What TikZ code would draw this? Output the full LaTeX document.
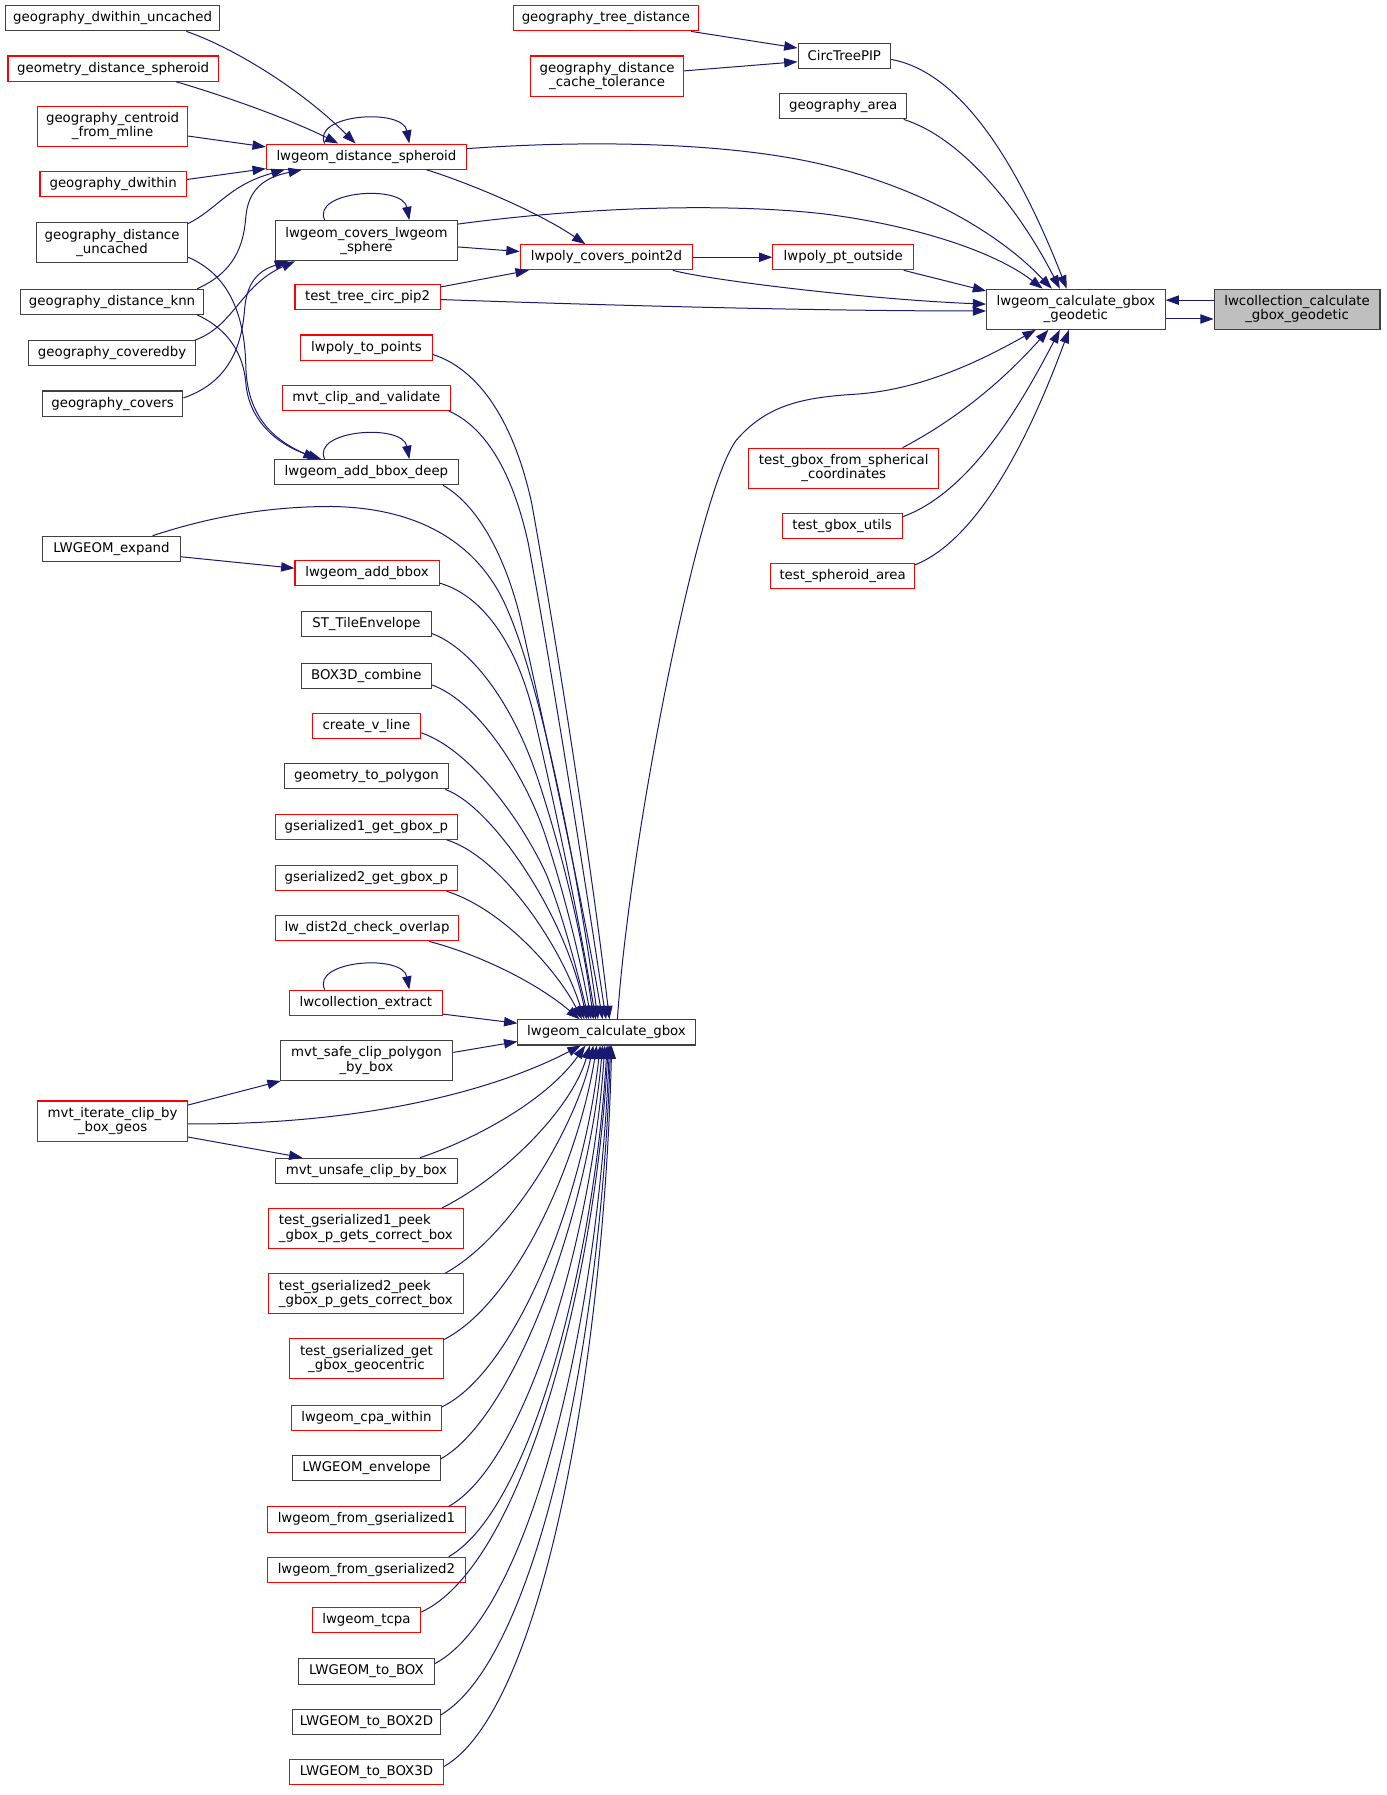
\documentclass[tikz,border=0pt]{standalone}
\usepackage{fontspec}
\setmainfont{DejaVu Sans}
\usetikzlibrary{arrows.meta,calc}
\definecolor{edgeblue}{HTML}{191970}
\definecolor{boxgray}{HTML}{404040}
\definecolor{rootfill}{HTML}{BFBFBF}
\tikzset{
  base/.style={rectangle, inner sep=0pt, minimum height=22*0.8576pt, font=\fontsize{10}{10.7}\selectfont, align=center, line width=0.8pt},
  nb/.style={base, draw=boxgray},
  nr/.style={base, draw=red},
  rootbox/.style={base, draw=boxgray, fill=rootfill},
  bw/.style={minimum width=#1*0.8576pt},
  two/.style={minimum height=35*0.8576pt},
  edg/.style={draw=edgeblue, line width=0.75pt, -{Triangle[length=10pt,width=7pt]}},
}
\begin{document}
\begin{tikzpicture}[x=0.8576pt,y=-0.8576pt]
\useasboundingbox (0,0) rectangle (1213,1570);
% ---------- column A ----------
\node[nb,bw=187] (dwu) at (98.5,16) {geography\_dwithin\_uncached};
\node[nr,bw=184] (gds) at (99,60) {geometry\_distance\_spheroid};
\node[nr,bw=131,two] (gcm) at (98.5,110.5) {geography\_centroid\\\_from\_mline};
\node[nr,bw=128] (gdw) at (99,161) {geography\_dwithin};
\node[nb,bw=132,two] (gdu) at (98,212.5) {geography\_distance\\\_uncached};
\node[nb,bw=160] (gdk) at (98,264) {geography\_distance\_knn};
\node[nb,bw=146] (gcb) at (98,309) {geography\_coveredby};
\node[nb,bw=123] (gcv) at (98.5,353) {geography\_covers};
\node[nb,bw=121] (lex) at (97.5,480) {LWGEOM\_expand};
\node[nr,bw=131,two] (mic) at (98.5,980.5) {mvt\_iterate\_clip\_by\\\_box\_geos};
% ---------- column B ----------
\node[nr,bw=175] (lds) at (320.5,137) {lwgeom\_distance\_spheroid};
\node[nb,bw=159,two] (lcs) at (320.5,210.5) {lwgeom\_covers\_lwgeom\\\_sphere};
\node[nr,bw=127] (tcp) at (321.5,260) {test\_tree\_circ\_pip2};
\node[nr,bw=115] (lpp) at (320.5,304) {lwpoly\_to\_points};
\node[nr,bw=147] (mcv) at (320.5,348) {mvt\_clip\_and\_validate};
\node[nb,bw=161] (abd) at (320.5,413) {lwgeom\_add\_bbox\_deep};
\node[nr,bw=126] (lab) at (321,501) {lwgeom\_add\_bbox};
\node[nb,bw=113] (ste) at (320.5,546) {ST\_TileEnvelope};
\node[nb,bw=113] (b3c) at (320.5,591) {BOX3D\_combine};
\node[nr,bw=95] (cvl) at (320.5,635) {create\_v\_line};
\node[nb,bw=143] (gtp) at (320.5,679) {geometry\_to\_polygon};
\node[nr,bw=159] (g1g) at (320.5,723) {gserialized1\_get\_gbox\_p};
\node[nr,bw=159] (g2g) at (320.5,768) {gserialized2\_get\_gbox\_p};
\node[nr,bw=160] (ldc) at (321,812) {lw\_dist2d\_check\_overlap};
\node[nr,bw=134] (lce) at (320,877) {lwcollection\_extract};
\node[nb,bw=151,two] (msc) at (320.5,927.5) {mvt\_safe\_clip\_polygon\\\_by\_box};
\node[nb,bw=159] (muc) at (320.5,1024) {mvt\_unsafe\_clip\_by\_box};
\node[nr,bw=170,two,align=left] (t1p) at (320,1074.5) {test\_gserialized1\_peek\\\_gbox\_p\_gets\_correct\_box};
\node[nr,bw=170,two,align=left] (t2p) at (320,1131.5) {test\_gserialized2\_peek\\\_gbox\_p\_gets\_correct\_box};
\node[nr,bw=135,two] (tgg) at (320.5,1188.5) {test\_gserialized\_get\\\_gbox\_geocentric};
\node[nr,bw=131] (lcw) at (320.5,1240) {lwgeom\_cpa\_within};
\node[nb,bw=129] (lenv) at (320.5,1284) {LWGEOM\_envelope};
\node[nr,bw=173] (lfga) at (320.5,1329) {lwgeom\_from\_gserialized1};
\node[nr,bw=173] (lfgb) at (320.5,1373) {lwgeom\_from\_gserialized2};
\node[nr,bw=95] (ltc) at (320.5,1417) {lwgeom\_tcpa};
\node[nb,bw=119] (ltb) at (320.5,1462) {LWGEOM\_to\_BOX};
\node[nb,bw=129] (ltbb) at (320.5,1506) {LWGEOM\_to\_BOX2D};
\node[nr,bw=135] (ltbc) at (320.5,1550) {LWGEOM\_to\_BOX3D};
% ---------- column C ----------
\node[nr,bw=162] (gtd) at (530,16) {geography\_tree\_distance};
\node[nr,bw=134,two] (gdc) at (531,66.5) {geography\_distance\\\_cache\_tolerance};
\node[nr,bw=151] (lpc) at (530.5,225) {lwpoly\_covers\_point2d};
\node[nb,bw=155] (lcg) at (530.5,903) {lwgeom\_calculate\_gbox};
% ---------- column D ----------
\node[nb,bw=81] (ctp) at (738.5,49) {CircTreePIP};
\node[nb,bw=111] (gar) at (737.5,93) {geography\_area};
\node[nr,bw=123] (lpo) at (737.5,225) {lwpoly\_pt\_outside};
\node[nr,bw=166,two] (tgs) at (738,409.5) {test\_gbox\_from\_spherical\\\_coordinates};
\node[nr,bw=105] (tgu) at (736.5,460) {test\_gbox\_utils};
\node[nr,bw=126] (tsa) at (737,504) {test\_spheroid\_area};
% ---------- columns E, F ----------
\node[nb,bw=156,two] (lgg) at (941,270.5) {lwgeom\_calculate\_gbox\\\_geodetic};
\node[rootbox,bw=145,two] (lcc) at (1134.5,270.5) {lwcollection\_calculate\\\_gbox\_geodetic};

% ---------- edges into lwgeom_distance_spheroid ----------
\draw[edg] ($(dwu.south)+(64.5,0)$) .. controls (200,40) and (260,75) .. ($(lds.north)+(-9.5,0)$);
\draw[edg] ($(gds.south)+(55,0)$) .. controls (200,85) and (255,105) .. ($(lds.north)+(-24.5,0)$);
\draw[edg] ($(gcm.east)+(0,8.5)$) -- ($(lds.west)+(0,-8.5)$);
\draw[edg] ($(gdw.east)+(0,-4)$) -- ($(lds.south west)+(0,-1)$);
\draw[edg] ($(gdu.north east)+(0,1)$) .. controls (190,183) and (200,162) .. ($(lds.south)+(-71.5,0)$);
\draw[edg] ($(gdk.north east)+(-6,0)$) .. controls (205,238) and (213,215) .. (215,190) .. controls (217,165) and (232,155) .. ($(lds.south)+(-56.5,0)$);
\draw[edg] ($(lds.north)+(-36.5,0)$) .. controls (272,100) and (352,94) .. ($(lds.north)+(37.5,0)$);
% ---------- edges into lwgeom_add_bbox_deep ----------
\draw[edg] ($(gdu.east)+(0,12.5)$) .. controls (200,240) and (214,275) .. (215,320) .. controls (216,365) and (240,385) .. ($(abd.north)+(-43.5,0)$);
\draw[edg] ($(gdk.south east)+(-6,0)$) .. controls (200,288) and (213,310) .. (215,335) .. controls (218,370) and (245,390) .. ($(abd.north)+(-39.5,0)$);
\draw[edg] ($(abd.north)+(-36.5,0)$) .. controls (272,376) and (352,370) .. ($(abd.north)+(37.5,0)$);
% ---------- edges into lwgeom_covers_lwgeom_sphere ----------
\draw[edg] ($(gcb.north east)+(-1,0)$) .. controls (205,285) and (210,250) .. ($(lcs.south)+(-62.5,0)$);
\draw[edg] ($(gcv.east)+(0,-5)$) .. controls (205,333) and (212,295) .. (214,270) .. controls (216,245) and (228,236) .. ($(lcs.south)+(-68.5,0)$);
\draw[edg] ($(lcs.north)+(-36.5,0)$) .. controls (272,167) and (352,161) .. ($(lcs.north)+(37.5,0)$);
% ---------- edges into lwpoly_covers_point2d ----------
\draw[edg] ($(lcs.east)+(0,5.5)$) -- ($(lpc.west)+(0,-5)$);
\draw[edg] ($(lds.south)+(52.5,0)$) .. controls (410,160) and (470,185) .. ($(lpc.north)+(-18.5,0)$);
\draw[edg] ($(tcp.east)+(0,-9)$) -- ($(lpc.south west)+(8,0)$);
\draw[edg] (lpc.east) -- (lpo.west);
% ---------- edges into CircTreePIP ----------
\draw[edg] ($(gtd.south east)+(-7,0)$) -- ($(ctp.west)+(0,-7)$);
\draw[edg] ($(gdc.east)+(0,-4.5)$) -- ($(ctp.west)+(0,5)$);
% ---------- edges into lwgeom_calculate_gbox_geodetic ----------
\draw[edg] ($(lds.east)+(0,-7)$) .. controls (520,122) and (640,125) .. (720,144) .. controls (800,163) and (870,200) .. ($(lgg.north)+(-21,0)$);
\draw[edg] ($(lcs.east)+(0,-14.5)$) .. controls (520,180) and (640,178) .. (720,187) .. controls (800,197) and (870,220) .. ($(lgg.north)+(-29,0)$);
\draw[edg] ($(tcp.east)+(0,2)$) .. controls (500,266) and (700,272) .. ($(lgg.west)+(0,1.5)$);
\draw[edg] ($(lpc.south east)+(-18,0)$) .. controls (620,245) and (760,262) .. ($(lgg.west)+(0,-4.5)$);
\draw[edg] ($(lpo.south east)+(-9,0)$) -- ($(lgg.north west)+(0,2)$);
\draw[edg] ($(ctp.east)+(0,3)$) .. controls (835,62) and (885,130) .. ($(lgg.north)+(-8,0)$);
\draw[edg] ($(gar.south east)+(-3,0)$) .. controls (840,120) and (890,180) .. ($(lgg.north)+(-14,0)$);
\draw[edg] ($(lcg.north)+(9.5,0)$) .. controls (550,740) and (610,430) .. (644,385) .. controls (670,355) and (700,348) .. (745,345) .. controls (800,342) and (850,320) .. ($(lgg.south)+(-35,0)$);
\draw[edg] ($(tgs.north east)+(-32,0)$) .. controls (840,365) and (880,330) .. ($(lgg.south)+(-24,0)$);
\draw[edg] ($(tgu.east)+(0,-8)$) .. controls (850,430) and (895,350) .. ($(lgg.south)+(-14,0)$);
\draw[edg] ($(tsa.east)+(0,-10)$) .. controls (860,470) and (905,370) .. ($(lgg.south)+(-6,0)$);
\draw[edg] ($(lcc.west)+(0,-8)$) -- ($(lgg.east)+(0,-8)$);
\draw[edg] ($(lgg.east)+(0,8.5)$) -- ($(lcc.west)+(0,8.5)$);
% ---------- LWGEOM_expand ----------
\draw[edg] ($(lex.east)+(0,7)$) -- ($(lab.west)+(0,-4)$);
\draw[edg] ($(lex.north east)+(-25,0)$) .. controls (190,450) and (240,443) .. (290,443) .. controls (360,444) and (410,470) .. (437,519) .. controls (470,580) and (505,760) .. ($(lcg.north)+(-7.5,0)$);
% ---------- fan into lwgeom_calculate_gbox (top) ----------
\draw[edg] ($(lpp.east)+(0,6)$) .. controls (425,325) and (452,380) .. (465,440) .. controls (485,550) and (518,760) .. ($(lcg.north)+(2.5,0)$);
\draw[edg] ($(mcv.south east)+(-2,0)$) .. controls (428,375) and (450,420) .. (462,475) .. controls (478,560) and (512,770) .. ($(lcg.north)+(-0.5,0)$);
\draw[edg] ($(abd.south east)+(-14,0)$) .. controls (415,440) and (440,480) .. (455,540) .. controls (475,630) and (510,790) .. ($(lcg.north)+(-3.5,0)$);
\draw[edg] ($(lab.east)+(0,9)$) .. controls (420,520) and (452,560) .. (468,630) .. controls (484,700) and (506,800) .. ($(lcg.north)+(-9.5,0)$);
\draw[edg] ($(ste.east)+(0,8)$) .. controls (415,568) and (450,620) .. (470,680) .. controls (490,740) and (510,820) .. ($(lcg.north)+(-11.5,0)$);
\draw[edg] ($(b3c.east)+(0,8)$) .. controls (415,612) and (455,670) .. (475,725) .. controls (492,775) and (508,840) .. ($(lcg.north)+(-13.5,0)$);
\draw[edg] ($(cvl.east)+(0,6)$) .. controls (410,655) and (455,715) .. (478,765) .. controls (492,800) and (505,850) .. ($(lcg.north)+(-15.5,0)$);
\draw[edg] ($(gtp.south east)+(-3,0)$) .. controls (430,705) and (495,800) .. ($(lcg.north)+(-17.5,0)$);
\draw[edg] ($(g1g.south east)+(-10,0)$) .. controls (440,750) and (492,830) .. ($(lcg.north)+(-19.5,0)$);
\draw[edg] ($(g2g.south east)+(-10,0)$) .. controls (440,795) and (488,850) .. ($(lcg.north)+(-21.5,0)$);
\draw[edg] ($(ldc.south east)+(-26,0)$) .. controls (420,835) and (470,860) .. ($(lcg.north)+(-23.5,0)$);
\draw[edg] ($(lce.east)+(0,10)$) -- ($(lcg.west)+(0,-8)$);
\draw[edg] ($(lce.north)+(-36,0)$) .. controls (272,840) and (352,834) .. ($(lce.north)+(38,0)$);
\draw[edg] ($(msc.east)+(0,-7)$) -- ($(lcg.west)+(0,8)$);
% ---------- mvt_iterate_clip_by_box_geos ----------
\draw[edg] ($(mic.east)+(0,-14)$) -- ($(msc.south west)+(1,0)$);
\draw[edg] ($(mic.east)+(0,14)$) -- ($(muc.north west)+(24,0)$);
\draw[edg] ($(mic.east)+(0,2.5)$) .. controls (300,984) and (420,960) .. ($(lcg.south)+(-22.5,0)$);
% ---------- fan into lwgeom_calculate_gbox (bottom) ----------
\draw[edg] ($(muc.north east)+(-33,0)$) .. controls (420,995) and (480,960) .. ($(lcg.south)+(-18.5,0)$);
\draw[edg] ($(t1p.north east)+(-19,0)$) .. controls (440,1030) and (500,970) .. ($(lcg.south)+(-14.5,0)$);
\draw[edg] ($(t2p.north east)+(-16,0)$) .. controls (450,1080) and (505,980) .. ($(lcg.south)+(-11.5,0)$);
\draw[edg] ($(tgg.north east)+(0,1)$) .. controls (450,1140) and (505,1020) .. ($(lcg.south)+(-8.5,0)$);
\draw[edg] ($(lcw.north east)+(0,2)$) .. controls (450,1200) and (510,1050) .. ($(lcg.south)+(-5.5,0)$);
\draw[edg] ($(lenv.east)+(0,-8)$) .. controls (450,1240) and (515,1060) .. ($(lcg.south)+(-3.5,0)$);
\draw[edg] ($(lfga.north east)+(-15,0)$) .. controls (460,1280) and (518,1080) .. ($(lcg.south)+(-1.5,0)$);
\draw[edg] ($(lfgb.north east)+(-15,0)$) .. controls (465,1320) and (520,1100) .. ($(lcg.south)+(0.5,0)$);
\draw[edg] ($(ltc.east)+(0,-7)$) .. controls (455,1370) and (520,1130) .. ($(lcg.south)+(1.5,0)$);
\draw[edg] ($(ltb.east)+(0,-7)$) .. controls (465,1410) and (524,1150) .. ($(lcg.south)+(2.5,0)$);
\draw[edg] ($(ltbb.east)+(0,-6)$) .. controls (470,1450) and (526,1170) .. ($(lcg.south)+(3.5,0)$);
\draw[edg] ($(ltbc.east)+(0,-5)$) .. controls (475,1495) and (528,1190) .. ($(lcg.south)+(4.5,0)$);
\end{tikzpicture}
\end{document}
